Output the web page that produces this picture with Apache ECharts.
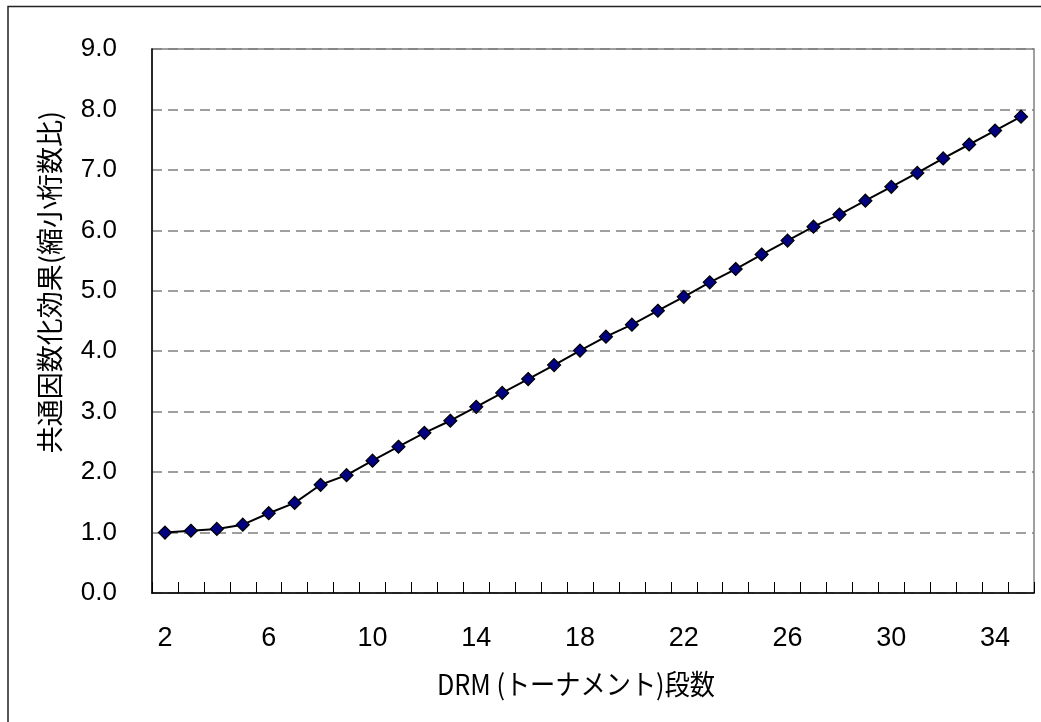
<!DOCTYPE html>
<html>
<head>
<meta charset="utf-8">
<script src="https://cdn.jsdelivr.net/npm/echarts@6/dist/echarts.min.js"></script>
<style>
html,body{margin:0;padding:0;background:#fff;}
#chart{width:1041px;height:722px;}
</style>
</head>
<body>
<div id="chart"></div>
<script>
const categories = ['2','3','4','5','6','7','8','9','10','11','12','13','14','15','16','17','18','19','20','21','22','23','24','25','26','27','28','29','30','31','32','33','34','35'];
const values = [1.00, 1.03, 1.06, 1.13, 1.32, 1.49, 1.79, 1.95, 2.19, 2.42, 2.65, 2.85, 3.08, 3.31, 3.54, 3.77, 4.01, 4.24, 4.44, 4.67, 4.90, 5.14, 5.36, 5.60, 5.83, 6.06, 6.26, 6.49, 6.72, 6.95, 7.19, 7.42, 7.65, 7.88];
const xTitle = 'DRM (トーナメント)段数';
const yTitle = '共通因数化効果(縮小桁数比)';

const chart = echarts.init(document.getElementById('chart'));
chart.setOption({
  animation: false,
  backgroundColor: '#fff',
  graphic: [
    {
      type: 'rect',
      shape: { x: 8, y: 6.5, width: 1200, height: 900 },
      style: { fill: 'none', stroke: '#222', lineWidth: 1.5 },
      z: 0
    },
    {
      type: 'text',
      x: 50,
      y: 282,
      rotation: Math.PI / 2,
      style: {
        text: yTitle,
        font: '27px "Noto Sans CJK JP"',
        fill: '#000',
        align: 'center',
        verticalAlign: 'middle'
      }
    },
    {
      type: 'text',
      x: 576,
      y: 684,
      scaleX: 0.9,
      style: {
        text: xTitle,
        font: '28px "Noto Sans CJK JP"',
        fill: '#000',
        align: 'center',
        verticalAlign: 'middle'
      }
    }
  ],
  grid: {
    left: 152, top: 49, right: 7, bottom: 129,
    show: true,
    borderColor: '#808080',
    borderWidth: 1.5,
    backgroundColor: '#fff'
  },
  xAxis: {
    type: 'category',
    data: categories,
    boundaryGap: true,
    axisLine: { lineStyle: { color: '#000', width: 1.5 } },
    axisTick: { show: true, inside: true, length: 11, interval: 0, lineStyle: { color: '#000', width: 1 } },
    axisLabel: {
      interval: 3,
      margin: 32,
      fontSize: 27,
      fontFamily: 'Liberation Sans',
      color: '#000'
    },
    splitLine: { show: false }
  },
  yAxis: {
    type: 'value',
    min: 0,
    max: 9,
    interval: 1,
    axisLine: { show: true, lineStyle: { color: '#000', width: 1.5 } },
    axisTick: { show: false },
    axisLabel: {
      margin: 35,
      fontSize: 26,
      fontFamily: 'Liberation Sans',
      color: '#000',
      formatter: v => v.toFixed(1)
    },
    splitLine: {
      show: true,
      lineStyle: { color: '#808080', width: 1.5, type: [10, 6] }
    }
  },
  series: [{
    type: 'line',
    data: values,
    symbol: 'diamond',
    symbolSize: 13,
    lineStyle: { color: '#000', width: 2 },
    itemStyle: { color: '#000080', borderColor: '#000', borderWidth: 1.2 }
  }]
});
</script>
</body>
</html>
